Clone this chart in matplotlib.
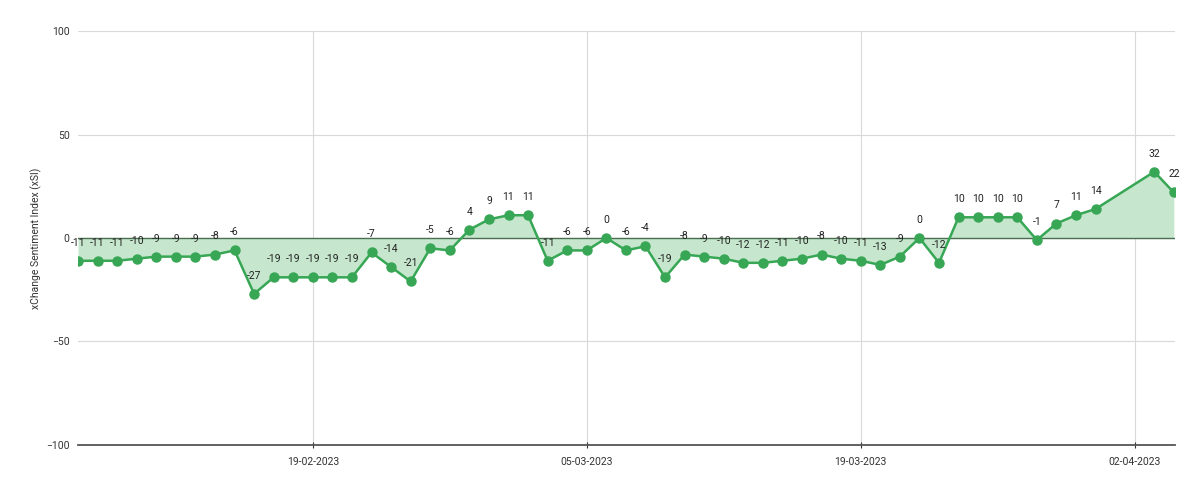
import matplotlib
matplotlib.use('Agg')
import matplotlib.pyplot as plt
import matplotlib.dates as mdates
import numpy as np
import pandas as pd

plt.rcParams['font.family'] = ['Roboto', 'DejaVu Sans']

# daily xSI values (no data for 01-04 and 02-04)
dates = list(pd.date_range('2023-02-07', '2023-03-31', freq='D')) + \
    [pd.Timestamp('2023-04-03'), pd.Timestamp('2023-04-04')]
values = [-11, -11, -11, -10, -9, -9, -9, -8, -6, -27,
          -19, -19, -19, -19, -19, -7, -14, -21, -5, -6,
          4, 9, 11, 11, -11, -6, -6, 0, -6, -4,
          -19, -8, -9, -10, -12, -12, -11, -10, -8, -10,
          -11, -13, -9, 0, -12, 10, 10, 10, 10, -1,
          7, 11, 14, 32, 22]
x_ticks = ['2023-02-19', '2023-03-05', '2023-03-19', '2023-04-02']
y_ticks = [-100, -50, 0, 50, 100]

line_color = '#37a655'
fill_color = '#c6e7cd'

fig = plt.figure(figsize=(12, 4.93), dpi=100)
ax = fig.add_axes([0.065, 0.0974, 0.914, 0.8397])

x = mdates.date2num(dates)
ax.fill_between(x, values, 0, color=fill_color, linewidth=0, zorder=1)
ax.axhline(0, color='#4b6e52', linewidth=1.0, zorder=2)
ax.plot(x, values, color=line_color, linewidth=1.8, marker='o',
        markersize=6.5, zorder=3)

for xi, v in zip(x, values):
    ax.annotate(str(v), (xi, v), xytext=(0, 13), textcoords='offset points',
                ha='center', va='center', fontsize=7.5, color='#222222',
                zorder=4)

ax.set_ylim(-100, 100)
ax.set_yticks(y_ticks)
ax.set_xlim(mdates.date2num(pd.Timestamp('2023-02-07')),
            mdates.date2num(pd.Timestamp('2023-04-04')) + 0.05)
ax.set_xticks(mdates.date2num(pd.to_datetime(x_ticks)))
ax.xaxis.set_major_formatter(mdates.DateFormatter('%d-%m-%Y'))

ax.grid(True, color='#d9d9d9', linewidth=0.8, zorder=0)
ax.set_axisbelow(True)
for s in ['top', 'right', 'left']:
    ax.spines[s].set_visible(False)
ax.spines['bottom'].set_color('#555555')
ax.spines['bottom'].set_linewidth(1.3)

ax.tick_params(axis='y', length=0, pad=6, labelsize=7.5, labelcolor='#333333')
ax.tick_params(axis='x', length=5, direction='inout', color='#333333',
               pad=6, labelsize=7.5, labelcolor='#333333')

ax.set_ylabel('xChange Sentiment Index (xSI)', fontsize=7.5, color='#333333',
              labelpad=3)

fig.savefig('out.png', dpi=100)
